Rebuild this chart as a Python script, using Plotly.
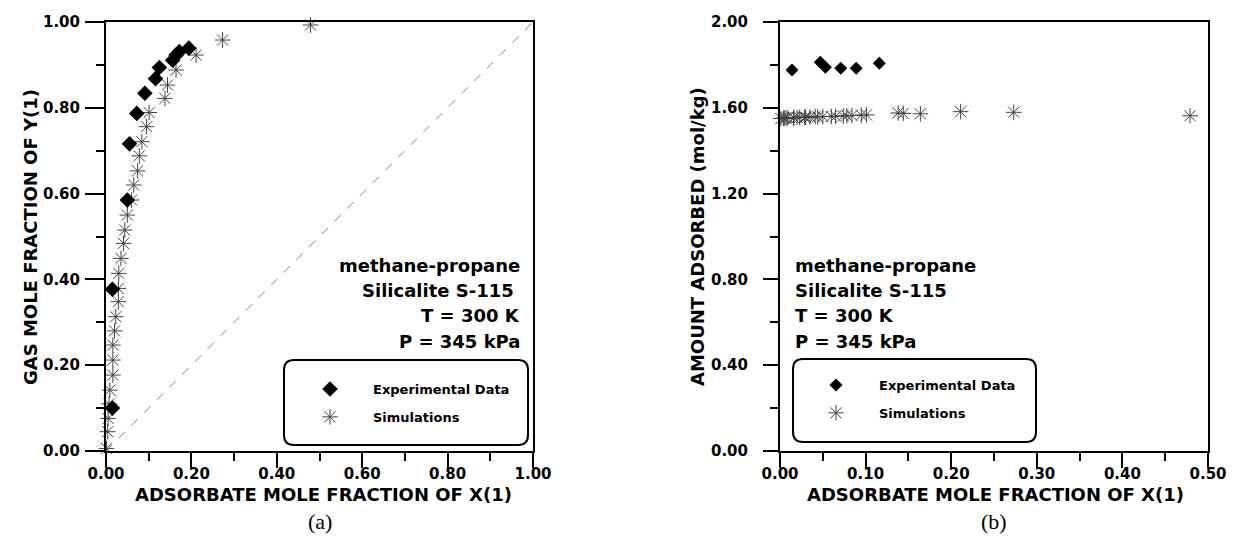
import plotly.graph_objects as go

# ---- experimental data (methane-propane on Silicalite S-115, 300 K, 345 kPa)
exp_x_a = [0.015, 0.015, 0.050, 0.055, 0.072, 0.091, 0.116, 0.125, 0.156, 0.164, 0.172, 0.194]
exp_y_a = [0.100, 0.377, 0.585, 0.716, 0.787, 0.834, 0.868, 0.894, 0.911, 0.923, 0.931, 0.939]

exp_x_b = [0.014, 0.047, 0.053, 0.071, 0.089, 0.116]
exp_q_b = [1.776, 1.812, 1.789, 1.784, 1.784, 1.808]

# ---- simulation results
sim_x = [0.001, 0.004, 0.005, 0.007, 0.009, 0.016, 0.016, 0.016, 0.020, 0.023,
         0.029, 0.029, 0.030, 0.035, 0.041, 0.044, 0.050, 0.060, 0.065, 0.074,
         0.078, 0.084, 0.095, 0.101, 0.138, 0.144, 0.164, 0.211, 0.273, 0.479]
sim_y = [0.006, 0.045, 0.076, 0.110, 0.142, 0.177, 0.212, 0.247, 0.280, 0.313,
         0.348, 0.379, 0.414, 0.449, 0.484, 0.515, 0.550, 0.585, 0.620, 0.653,
         0.688, 0.721, 0.756, 0.789, 0.822, 0.853, 0.888, 0.923, 0.958, 0.993]
sim_q = [1.550, 1.551, 1.552, 1.552, 1.553, 1.553, 1.554, 1.554, 1.555, 1.555,
         1.556, 1.556, 1.556, 1.557, 1.558, 1.558, 1.559, 1.560, 1.561, 1.562,
         1.563, 1.564, 1.566, 1.567, 1.576, 1.574, 1.572, 1.582, 1.579, 1.563]

# y = x reference line
diag = [0.0, 1.0]

W, H = 1234, 550
FONT = "DejaVu Sans"
SERIF = "Liberation Serif, Times New Roman, serif"


def px_x(p):
    return p / W


def px_y(p):
    return 1 - p / H


def rounded_box(x0, y0, x1, y1, r=10):
    """Rounded rectangle path in paper coordinates from pixel corners."""
    X = lambda v: f"{px_x(v):.5f}"
    Y = lambda v: f"{px_y(v):.5f}"
    return (f"M {X(x0 + r)} {Y(y0)} L {X(x1 - r)} {Y(y0)} "
            f"Q {X(x1)} {Y(y0)} {X(x1)} {Y(y0 + r)} L {X(x1)} {Y(y1 - r)} "
            f"Q {X(x1)} {Y(y1)} {X(x1 - r)} {Y(y1)} L {X(x0 + r)} {Y(y1)} "
            f"Q {X(x0)} {Y(y1)} {X(x0)} {Y(y1 - r)} L {X(x0)} {Y(y0 + r)} "
            f"Q {X(x0)} {Y(y0)} {X(x0 + r)} {Y(y0)} Z")


fig = go.Figure()

sim_marker = dict(symbol="asterisk-open", size=13, color="#444444",
                  line=dict(width=1, color="#444444"))

# panel (a)
fig.add_trace(go.Scatter(x=diag, y=diag, mode="lines", xaxis="x", yaxis="y",
                         line=dict(color="#888888", width=1, dash="dash"),
                         showlegend=False, hoverinfo="skip"))
fig.add_trace(go.Scatter(x=sim_x, y=sim_y, mode="markers", name="Simulations",
                         xaxis="x", yaxis="y", marker=sim_marker, cliponaxis=False,
                         legend="legend", legendgroup="s", legendrank=2))
fig.add_trace(go.Scatter(x=exp_x_a, y=exp_y_a, mode="markers", name="Experimental Data",
                         xaxis="x", yaxis="y", cliponaxis=False,
                         marker=dict(symbol="diamond", size=12, color="black"),
                         legend="legend", legendgroup="e", legendrank=1))

# panel (b)
fig.add_trace(go.Scatter(x=sim_x, y=sim_q, mode="markers", name="Simulations",
                         xaxis="x2", yaxis="y2", marker=sim_marker, cliponaxis=False,
                         legend="legend2", legendgroup="s2", legendrank=2))
fig.add_trace(go.Scatter(x=exp_x_b, y=exp_q_b, mode="markers", name="Experimental Data",
                         xaxis="x2", yaxis="y2", cliponaxis=False,
                         marker=dict(symbol="diamond", size=10, color="black"),
                         legend="legend2", legendgroup="e2", legendrank=1))

tickfont = dict(family=FONT, size=15, color="black", weight="bold")
titlefont = dict(family=FONT, size=18, color="black", weight="bold")
minor_ticks = dict(ticks="outside", ticklen=8, tickwidth=2, tickcolor="black")

axis_common = dict(showline=True, mirror=True, linecolor="black", linewidth=2,
                   ticks="outside", ticklen=15, tickwidth=2, tickcolor="black",
                   showgrid=False, zeroline=False, tickfont=tickfont,
                   tickformat=".2f", automargin=False)

legend_common = dict(xanchor="left", yanchor="top", bgcolor="rgba(0,0,0,0)",
                     borderwidth=0, tracegroupgap=8, itemwidth=76,
                     traceorder="grouped",
                     font=dict(family=FONT, size=13, color="black", weight="bold"))

fig.update_layout(
    width=W, height=H,
    margin=dict(l=0, r=0, t=0, b=0, autoexpand=False),
    paper_bgcolor="white", plot_bgcolor="white",
    xaxis=dict(axis_common, domain=[px_x(106), px_x(533)], range=[0, 1], dtick=0.2,
               minor=dict(minor_ticks, dtick=0.1), anchor="y", ticklabelstandoff=-7),
    yaxis=dict(axis_common, domain=[px_y(451), px_y(22)], range=[0, 1], dtick=0.2,
               minor=dict(minor_ticks, dtick=0.1), anchor="x",
               ticklen=19, ticklabelstandoff=2),
    xaxis2=dict(axis_common, domain=[px_x(780), px_x(1208)], range=[0, 0.5], dtick=0.1,
                minor=dict(minor_ticks, dtick=0.05), anchor="y2", ticklabelstandoff=-7),
    yaxis2=dict(axis_common, domain=[px_y(451), px_y(22)], range=[0, 2], dtick=0.4,
                minor=dict(minor_ticks, dtick=0.2), anchor="x2", ticklabelstandoff=12),
    legend=dict(legend_common, x=px_x(287), y=px_y(374)),
    legend2=dict(legend_common, x=px_x(793), y=px_y(370)),
    shapes=[
        dict(type="path", xref="paper", yref="paper", path=rounded_box(284, 360, 528, 445),
             line=dict(color="black", width=2), fillcolor="rgba(0,0,0,0)"),
        dict(type="path", xref="paper", yref="paper", path=rounded_box(793, 359, 1036, 442),
             line=dict(color="black", width=2), fillcolor="rgba(0,0,0,0)"),
    ],
)

annots = []

# axis titles
x_title = "ADSORBATE MOLE FRACTION OF X(1)"
for cx in (324, 995):
    annots.append(dict(text=x_title, xref="paper", yref="paper", x=px_x(cx), y=px_y(494),
                       xanchor="center", yanchor="middle", showarrow=False, font=titlefont))
for txt, cx in [("GAS MOLE FRACTION OF Y(1)", 30), ("AMOUNT ADSORBED (mol/kg)", 697)]:
    annots.append(dict(text=txt, xref="paper", yref="paper", x=px_x(cx), y=px_y(237),
                       xanchor="center", yanchor="middle", textangle=-90,
                       showarrow=False, font=titlefont))

# condition labels
cond_lines = ["methane-propane", "Silicalite S-115 ", "T = 300 K", "P = 345 kPa"]
cond_y = [265, 290, 315, 341]
for txt, yy in zip(cond_lines, cond_y):
    annots.append(dict(text=txt, xref="paper", yref="paper", x=px_x(522), y=px_y(yy),
                       xanchor="right", yanchor="middle", showarrow=False,
                       font=dict(family=FONT, size=18, color="black", weight="bold")))
    annots.append(dict(text=txt.strip(), xref="paper", yref="paper", x=px_x(793), y=px_y(yy),
                       xanchor="left", yanchor="middle", showarrow=False,
                       font=dict(family=FONT, size=18, color="black", weight="bold")))

# panel captions
for cap, cx in [("(a)", 320), ("(b)", 994)]:
    annots.append(dict(text=cap, xref="paper", yref="paper", x=px_x(cx), y=px_y(521),
                       xanchor="center", yanchor="middle", showarrow=False,
                       font=dict(family=SERIF, size=22, color="black")))

fig.update_layout(annotations=annots)

fig.write_html("out.html")
